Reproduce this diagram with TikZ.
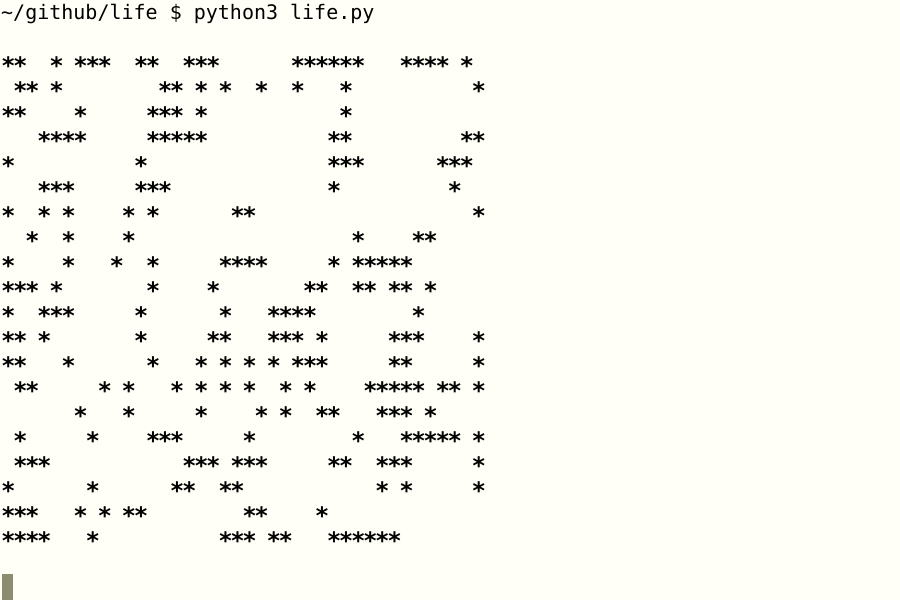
\documentclass[tikz,border=0pt]{standalone}
\usepackage{fontspec}
\setmonofont{DejaVu Sans Mono}
\usepackage{tikz}

\definecolor{termbg}{RGB}{255,255,248}
\definecolor{cursorgray}{RGB}{142,140,112}

% one cell of the grid: . is an empty cell, * a live one
\newlength\cellw \setlength\cellw{12.07pt}
\newcommand\lifecell[1]{\ifx#1.\hbox to\cellw{}\else\hbox to\cellw{\hss\raisebox{-5.7pt}{\scalebox{1.2}{\bfseries#1}}\hss}\fi}
\def\liferow#1{\liferowscan#1\relax}
\def\liferowscan#1{\ifx#1\relax\else\lifecell{#1}\expandafter\liferowscan\fi}

\tikzset{termtext/.style={anchor=base west, inner sep=0pt, font=\ttfamily\fontsize{20}{25}\selectfont},
  cursorblock/.style={rectangle, anchor=north west, inner sep=0pt, minimum width=11.3pt, minimum height=26pt, fill=cursorgray}}

\begin{document}
\begin{tikzpicture}[x=1pt, y=-1pt]
\useasboundingbox (0,0) rectangle (900,600);
\fill[termbg] (0,0) rectangle (900,600);
%\draw[help lines] (0,0) grid (900,600);
\path (1,19) node(prompt) [termtext] {\textasciitilde/github/life \$ python3 life.py}
(2,69) node(row0) [termtext] {\liferow{**..*.***..**..***......******...****.*}}
(2,94) node(row1) [termtext] {\liferow{.**.*........**.*.*..*..*...*..........*}}
(2,119) node(row2) [termtext] {\liferow{**....*.....***.*...........*}}
(2,144) node(row3) [termtext] {\liferow{...****.....*****..........**.........**}}
(2,169) node(row4) [termtext] {\liferow{*..........*...............***......***}}
(2,194) node(row5) [termtext] {\liferow{...***.....***.............*.........*}}
(2,219) node(row6) [termtext] {\liferow{*..*.*....*.*......**..................*}}
(2,244) node(row7) [termtext] {\liferow{..*..*....*..................*....**}}
(2,269) node(row8) [termtext] {\liferow{*....*...*..*.....****.....*.*****}}
(2,294) node(row9) [termtext] {\liferow{***.*.......*....*.......**..**.**.*}}
(2,319) node(row10) [termtext] {\liferow{*..***.....*......*...****........*}}
(2,344) node(row11) [termtext] {\liferow{**.*.......*.....**...***.*.....***....*}}
(2,369) node(row12) [termtext] {\liferow{**...*......*...*.*.*.*.***.....**.....*}}
(2,394) node(row13) [termtext] {\liferow{.**.....*.*...*.*.*.*..*.*....*****.**.*}}
(2,419) node(row14) [termtext] {\liferow{......*...*.....*....*.*..**...***.*}}
(2,444) node(row15) [termtext] {\liferow{.*.....*....***.....*........*...*****.*}}
(2,469) node(row16) [termtext] {\liferow{.***...........***.***.....**..***.....*}}
(2,494) node(row17) [termtext] {\liferow{*......*......**..**...........*.*.....*}}
(2,519) node(row18) [termtext] {\liferow{***...*.*.**........**....*}}
(2,544) node(row19) [termtext] {\liferow{****...*..........***.**...******}}
(1.7,574) node(cursor) [cursorblock] {};
\end{tikzpicture}
\end{document}
